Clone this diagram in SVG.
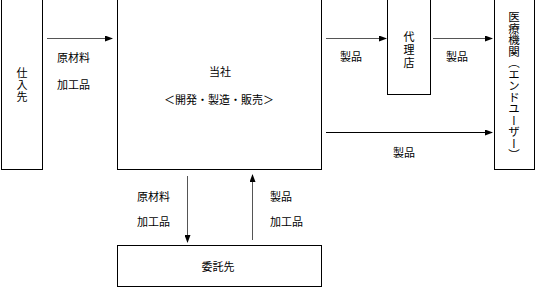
<svg xmlns="http://www.w3.org/2000/svg" width="536" height="288" viewBox="0 0 536 288">
<style>
.box{fill:#fff;stroke:#000;stroke-width:1}
.t{font-family:"Noto Sans CJK JP","Noto Sans CJK SC",sans-serif;font-size:11px;fill:#000}
.c{text-anchor:middle}
.ln{stroke:#555;stroke-width:1;fill:none;marker-end:url(#ah)}
.v{writing-mode:vertical-rl}
</style>
<defs>
<marker id="ah" markerWidth="8" markerHeight="6" refX="7" refY="3" orient="auto" markerUnits="userSpaceOnUse">
<path d="M0,0 L8,3 L0,6 Z" fill="#000"/>
</marker>
</defs>
<rect width="536" height="288" fill="#fff"/>
<g id="connectors">
<line class="ln" x1="47" y1="38.5" x2="112" y2="38.5"/>
<line class="ln" x1="326" y1="38.5" x2="386" y2="38.5"/>
<line class="ln" x1="433" y1="38.5" x2="492" y2="38.5"/>
<line class="ln" x1="326" y1="132.5" x2="492" y2="132.5" style="stroke:#000"/>
<line class="ln" x1="187.5" y1="176" x2="187.5" y2="242"/>
<line class="ln" x1="252.5" y1="240" x2="252.5" y2="175"/>
<text class="t" x="57" y="62">原材料</text>
<text class="t" x="57" y="89">加工品</text>
<text class="t c" x="351" y="61">製品</text>
<text class="t c" x="457" y="61">製品</text>
<text class="t c" x="404" y="157">製品</text>
<text class="t" x="137" y="201">原材料</text>
<text class="t" x="137" y="226">加工品</text>
<text class="t" x="270" y="201">製品</text>
<text class="t" x="270" y="226">加工品</text>
</g>
<g id="shiiresaki">
<rect class="box" x="1.5" y="-0.5" width="41" height="170"/>
<text class="t v" x="22" y="67" style="letter-spacing:1px">仕入先</text>
</g>
<g id="tousha">
<rect class="box" x="117.5" y="-0.5" width="204" height="170"/>
<text class="t c" x="220" y="76">当社</text>
<text class="t c" x="219" y="104">＜開発・製造・販売＞</text>
</g>
<g id="dairiten">
<rect class="box" x="387.5" y="-0.5" width="43" height="95"/>
<text class="t v" x="409" y="31" style="letter-spacing:2px">代理店</text>
</g>
<g id="iryoukikan">
<rect class="box" x="494.5" y="-0.5" width="40" height="170"/>
<text class="t v" x="514" y="11" style="font-size:11.5px">医療機関（エンドユーザー）</text>
</g>
<g id="itakusaki">
<rect class="box" x="117.5" y="245.5" width="204" height="41"/>
<text class="t c" x="218" y="271">委託先</text>
</g>
</svg>
